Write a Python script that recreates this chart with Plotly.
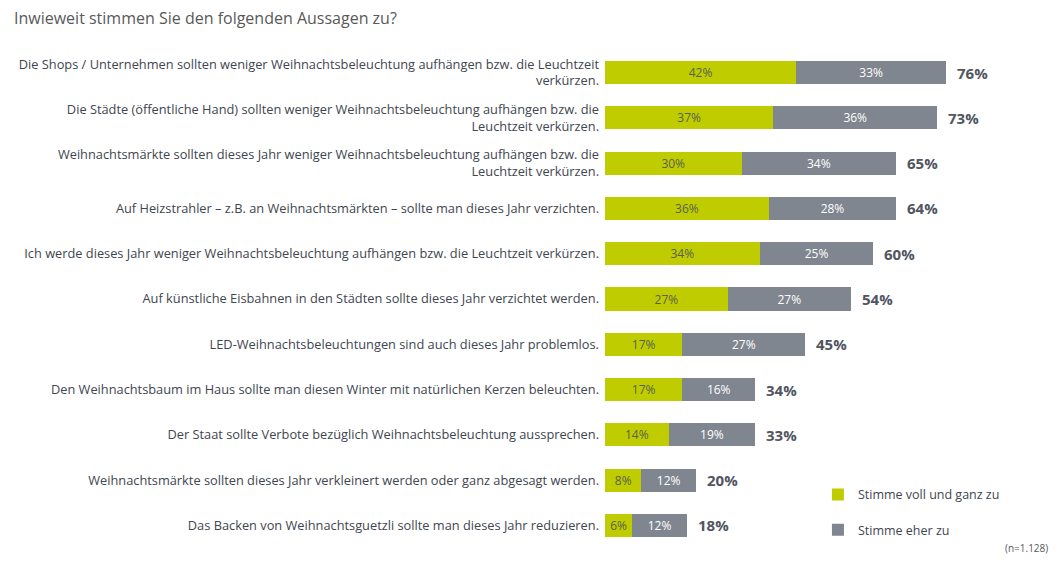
import plotly.graph_objects as go

categories = [
    "Die Shops / Unternehmen sollten weniger Weihnachtsbeleuchtung aufhängen bzw. die Leuchtzeit<br>verkürzen.",
    "Die Städte (öffentliche Hand) sollten weniger Weihnachtsbeleuchtung aufhängen bzw. die<br>Leuchtzeit verkürzen.",
    "Weihnachtsmärkte sollten dieses Jahr weniger Weihnachtsbeleuchtung aufhängen bzw. die<br>Leuchtzeit verkürzen.",
    "Auf Heizstrahler – z.B. an Weihnachtsmärkten – sollte man dieses Jahr verzichten.",
    "Ich werde dieses Jahr weniger Weihnachtsbeleuchtung aufhängen bzw. die Leuchtzeit verkürzen.",
    "Auf künstliche Eisbahnen in den Städten sollte dieses Jahr verzichtet werden.",
    "LED-Weihnachtsbeleuchtungen sind auch dieses Jahr problemlos.",
    "Den Weihnachtsbaum im Haus sollte man diesen Winter mit natürlichen Kerzen beleuchten.",
    "Der Staat sollte Verbote bezüglich Weihnachtsbeleuchtung aussprechen.",
    "Weihnachtsmärkte sollten dieses Jahr verkleinert werden oder ganz abgesagt werden.",
    "Das Backen von Weihnachtsguetzli sollte man dieses Jahr reduzieren.",
]
voll = [42, 37, 30, 36, 34, 27, 17, 17, 14, 8, 6]
eher = [33, 36, 34, 28, 25, 27, 27, 16, 19, 12, 12]
totals = [76, 73, 65, 64, 60, 54, 45, 34, 33, 20, 18]

GREEN = "#BFCC00"
GREY = "#7F868F"
FONT = "Open Sans"
TXT = "#404650"

fig = go.Figure()
fig.add_trace(go.Bar(
    y=categories, x=voll, orientation="h", name="Stimme voll und ganz zu",
    marker=dict(color=GREEN, line=dict(width=0)),
    text=[f"{v}%" for v in voll], textposition="inside", insidetextanchor="middle",
    textfont=dict(color="#5A5F50", size=12, family=FONT), legendgroup="a",
    hoverinfo="skip",
))
fig.add_trace(go.Bar(
    y=categories, x=eher, orientation="h", name="Stimme eher zu",
    marker=dict(color=GREY, line=dict(width=0)),
    text=[f"{v}%" for v in eher], textposition="inside", insidetextanchor="middle",
    textfont=dict(color="white", size=12, family=FONT), legendgroup="b",
    hoverinfo="skip",
))

for c, a, b, t in zip(categories, voll, eher, totals):
    fig.add_annotation(x=a + b, y=c, text=f"<b>{t}%</b>", showarrow=False,
                       xanchor="left", xshift=9,
                       font=dict(size=15, color="#505560", family=FONT))

fig.add_annotation(xref="paper", yref="paper", x=0.978, y=0.0, xanchor="right",
                   yanchor="middle", text="(n=1.128)", showarrow=False,
                   font=dict(size=10, color="#595959", family=FONT))

fig.update_layout(
    width=1055, height=559,
    barmode="stack", bargap=0.49,
    paper_bgcolor="white", plot_bgcolor="white",
    margin=dict(l=597, r=3, t=42, b=19, autoexpand=False),
    title=dict(text="Inwieweit stimmen Sie den folgenden Aussagen zu?",
               x=6 / 1055, xref="container", xanchor="left",
               y=1 - 10 / 559, yref="container", yanchor="middle",
               font=dict(size=16, color="#595959", family=FONT)),
    xaxis=dict(range=[0, 100], visible=False, fixedrange=True),
    yaxis=dict(autorange="reversed", showgrid=False, zeroline=False,
               showline=False, ticks="", ticklabelstandoff=5,
               tickfont=dict(size=12.8, color=TXT, family=FONT)),
    legend=dict(x=0.468, y=0.137, xanchor="left", yanchor="top",
                traceorder="grouped", tracegroupgap=16,
                font=dict(size=12.5, color=TXT, family=FONT),
                itemwidth=30, bgcolor="rgba(0,0,0,0)"),
    font=dict(family=FONT),
    showlegend=True,
)

fig.write_html("out.html")
